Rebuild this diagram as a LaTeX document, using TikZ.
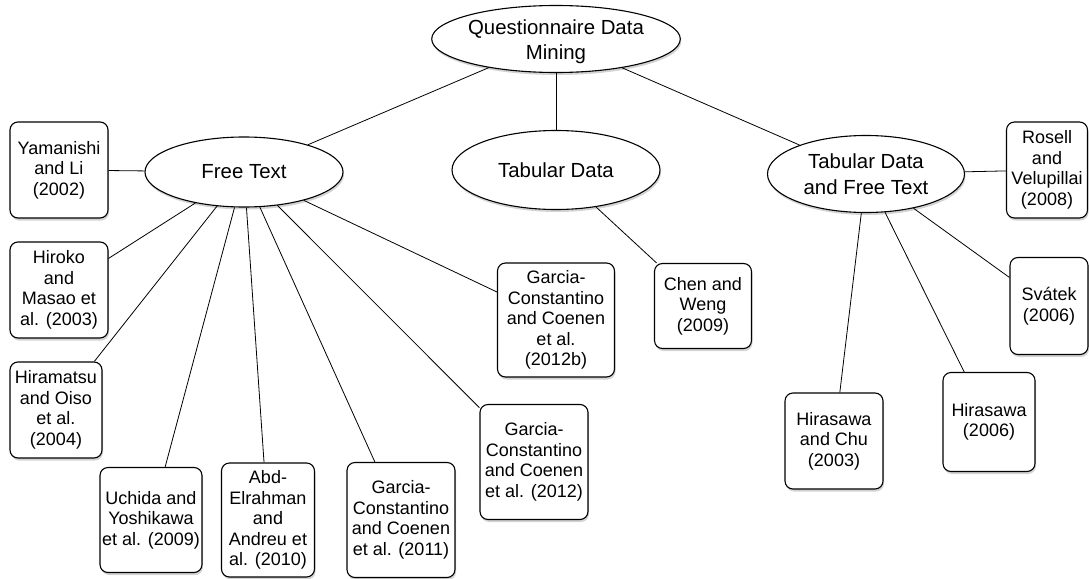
\documentclass[tikz,border=0pt]{standalone}
\usepackage{fontspec}
\setmainfont{Liberation Sans}
\usetikzlibrary{shapes.geometric,shadows}

\tikzset{ref/.style={draw, rounded corners=8pt, fill=white, align=center, inner sep=1pt, line width=1.1pt, font=\fontsize{18}{20.5}\selectfont, drop shadow={opacity=0.35, shadow xshift=1pt, shadow yshift=-2.5pt}}}
\tikzset{wide/.style={ref, minimum width=98pt, minimum height=96pt}}

\begin{document}
\begin{tikzpicture}[x=1pt, y=-1pt, line width=0.8pt, main/.style={draw, ellipse, fill=white, align=center, inner sep=0pt, line width=1.1pt, font=\fontsize{20.4}{25.5}\selectfont, drop shadow={opacity=0.35, shadow xshift=1pt, shadow yshift=-2.5pt}}]
    \useasboundingbox (0,0) rectangle (1089,578);

    % top level
    \node[main, minimum width=243pt, minimum height=67pt] (0) at (556,39) {\raisebox{-8pt}[0pt][0pt]{\begin{tabular}{@{}c@{}}Questionnaire Data\\Mining\end{tabular}}};
    \node[main, minimum width=198pt, minimum height=70pt] (1) at (244,172) {Free Text};
    \node[main, minimum width=208pt, minimum height=79pt] (2) at (556,170) {Tabular Data};
    \node[main, minimum width=197pt, minimum height=77pt] (3) at (866,174) {Tabular Data\\and Free Text};

    % free text
    \node[wide] (4) at (59,170) {Yamanishi\\and Li\\(2002)};
    \node[wide] (5) at (59,290) {Hiroko\\and\\Masao et\\al. (2003)};
    \node[ref, minimum width=92pt, minimum height=96pt] (6) at (56,410) {Hiramatsu\\and Oiso\\et al.\\(2004)};
    \node[ref, minimum width=102pt, minimum height=105pt] (7) at (151,520) {Uchida and\\Yoshikawa\\et al. (2009)};
    \node[ref, minimum width=93pt, minimum height=114pt] (8) at (268,520) {Abd-\\Elrahman\\and\\Andreu et\\al. (2010)};
    \node[ref, minimum width=108pt, minimum height=115pt] (9) at (401,520) {Garcia-\\Constantino\\and Coenen\\et al. (2011)};
    \node[ref, minimum width=108pt, minimum height=115pt] (10) at (534,462) {Garcia-\\Constantino\\and Coenen\\et al. (2012)};
    \node[ref, minimum width=117pt, minimum height=114pt] (11) at (556,320) {Garcia-\\Constantino\\and Coenen\\et al.\\(2012b)};

    % tabular data
    \node[ref, minimum width=97pt, minimum height=85pt] (12) at (703,306) {Chen and\\Weng\\(2009)};

    % tabular data and free text
    \node[ref, minimum width=81pt, minimum height=96pt] (13) at (1047,170) {Rosell\\and\\Velupillai\\(2008)};
    \node[ref, minimum width=78pt, minimum height=97pt] (14) at (1049,306) {Sv\'atek\\(2006)};
    \node[ref, minimum width=92pt, minimum height=99pt] (15) at (989,422) {Hirasawa\\(2006)};
    \node[wide] (16) at (834,441) {Hirasawa\\and Chu\\(2003)};

    \draw (0) -- (1);
    \draw (0) -- (2);
    \draw (0) -- (3);
    \foreach \n in {4,...,11}
        \draw (1) -- (\n);
    \draw (2) -- (12);
    \foreach \n in {13,...,16}
        \draw (3) -- (\n);
\end{tikzpicture}
\end{document}
